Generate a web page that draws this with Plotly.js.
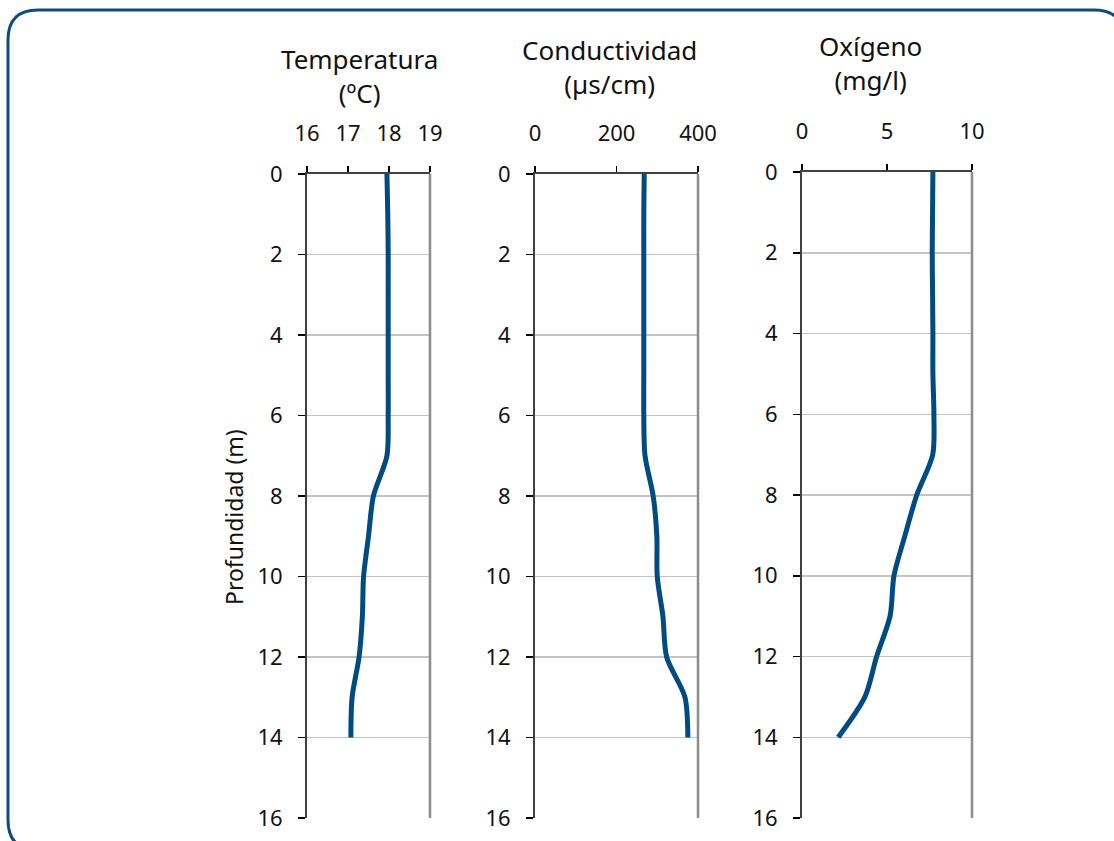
<!DOCTYPE html>
<html>
<head>
<meta charset="utf-8">
<script src="https://cdn.plot.ly/plotly-3.0.1.min.js"></script>
<style>
html,body{margin:0;padding:0;background:#fff;}
#chart{width:1114px;height:841px;}
</style>
</head>
<body>
<div id="chart"></div>
<script>
// Data
const depth = [0,1,2,3,4,5,6,7,8,9,10,11,12,13,14];
const temperatura = [17.95,17.97,17.98,17.98,17.98,17.98,17.98,17.95,17.62,17.5,17.38,17.35,17.27,17.1,17.07];
const conductividad = [268,267,267,267,267,267,267,270,290,299,300,314,323,368,375];
const oxigeno = [7.7,7.68,7.66,7.68,7.7,7.7,7.76,7.69,6.75,6.06,5.41,5.18,4.39,3.7,2.13];

const panelTitles = [["Temperatura","(ºC)"],["Conductividad","(µs/cm)"],["Oxígeno","(mg/l)"]];
const xRanges = [[16,19],[0,400],[0,10]];
const xTicks = [[16,17,18,19],[0,200,400],[0,5,10]];
const yTitle = "Profundidad (m)";

const W = 1114, H = 841;
const px = x => x / W;
const py = y => 1 - y / H;

const FONT = "Noto Sans, Open Sans, DejaVu Sans, sans-serif";
const LINE_COLOR = "#004b80";

// panel geometry in pixels (left, right, top, bottom)
const panels = [
  {l:307, r:430, t:174, b:818},
  {l:535, r:698, t:174, b:818},
  {l:802, r:972, t:172, b:818}
];
const titlePos = [
  {x:359, y:76},
  {x:609, y:67},
  {x:870, y:63}
];

const series = [temperatura, conductividad, oxigeno];
const traces = series.map((vals, i) => ({
  type: "scatter",
  mode: "lines",
  x: vals,
  y: depth,
  xaxis: i === 0 ? "x" : "x" + (i + 1),
  yaxis: i === 0 ? "y" : "y" + (i + 1),
  line: {color: LINE_COLOR, width: 5, shape: "spline", smoothing: 0.8},
  hoverinfo: "x+y",
  showlegend: false
}));

const layout = {
  width: W, height: H,
  margin: {l:0, r:0, t:0, b:0},
  paper_bgcolor: "#ffffff",
  plot_bgcolor: "#ffffff",
  font: {family: FONT, size: 22, color: "#000"},
  showlegend: false,
  shapes: [],
  annotations: []
};

panels.forEach((p, i) => {
  const sx = i === 0 ? "" : String(i + 1);
  layout["xaxis" + sx] = {
    domain: [px(p.l), px(p.r)],
    range: xRanges[i],
    tickvals: xTicks[i],
    side: "top",
    anchor: "y" + sx,
    showgrid: false,
    zeroline: false,
    showline: true,
    linecolor: "#404040",
    linewidth: 2,
    ticks: "outside",
    ticklen: 6,
    tickwidth: 1.5,
    tickcolor: "#000",
    ticklabelstandoff: 16,
    tickfont: {family: FONT, size: 22, color: "#111"},
    fixedrange: true
  };
  layout["yaxis" + sx] = {
    domain: [py(p.b), py(p.t)],
    range: [16, 0],
    dtick: 2,
    tick0: 0,
    anchor: "x" + sx,
    showgrid: true,
    gridcolor: "#c4c4c4",
    gridwidth: 1.5,
    zeroline: false,
    showline: true,
    linecolor: "#404040",
    linewidth: 2,
    ticks: "outside",
    ticklen: 7,
    tickwidth: 1.5,
    tickcolor: "#000",
    ticklabelstandoff: 11,
    tickfont: {family: FONT, size: 22, color: "#111"},
    fixedrange: true
  };
  // gray right-hand frame line
  layout.shapes.push({
    type: "line", xref: "x" + sx + " domain", yref: "y" + sx + " domain",
    x0: 1, x1: 1, y0: 0, y1: 1,
    line: {color: "#8c8c8c", width: 2.5}
  });
  // panel titles (two lines)
  const tp = titlePos[i];
  layout.annotations.push({
    text: panelTitles[i][0] + "<br>" + panelTitles[i][1],
    xref: "paper", yref: "paper",
    x: px(tp.x), y: py(tp.y), xanchor: "center", yanchor: "middle",
    align: "center",
    showarrow: false, font: {family: FONT, size: 26, color: "#111"}
  });
});

// y axis title
layout.annotations.push({
  text: yTitle, xref: "paper", yref: "paper",
  x: px(234), y: py(517), xanchor: "center", yanchor: "middle",
  textangle: -90, showarrow: false,
  font: {family: FONT, size: 23, color: "#111"}
});

// rounded outer frame
(function(){
  const L = 8, T = 10, R = 1124, B = 850, r = 30;
  const path =
    "M " + px(L) + "," + py(T + r) +
    " Q " + px(L) + "," + py(T) + " " + px(L + r) + "," + py(T) +
    " L " + px(R - r) + "," + py(T) +
    " Q " + px(R) + "," + py(T) + " " + px(R) + "," + py(T + r) +
    " L " + px(R) + "," + py(B - r) +
    " Q " + px(R) + "," + py(B) + " " + px(R - r) + "," + py(B) +
    " L " + px(L + r) + "," + py(B) +
    " Q " + px(L) + "," + py(B) + " " + px(L) + "," + py(B - r) + " Z";
  layout.shapes.push({
    type: "path", xref: "paper", yref: "paper", path: path,
    line: {color: "#0e4c7e", width: 3}, layer: "below"
  });
})();

Plotly.newPlot("chart", traces, layout, {displayModeBar: false, staticPlot: true});
</script>
</body>
</html>
